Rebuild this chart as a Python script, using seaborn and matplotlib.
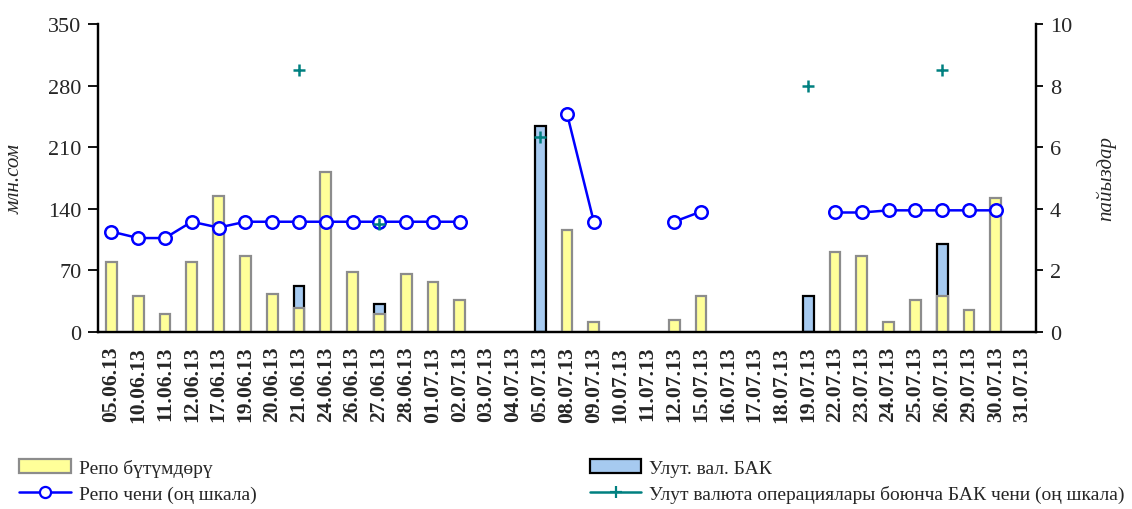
import numpy as np
import pandas as pd
import matplotlib
matplotlib.use("Agg")
import matplotlib.pyplot as plt
from matplotlib import font_manager
import seaborn as sns
from matplotlib.patches import Patch
from matplotlib.lines import Line2D

dates = ["05.06.13", "10.06.13", "11.06.13", "12.06.13", "17.06.13", "19.06.13", "20.06.13",
         "21.06.13", "24.06.13", "26.06.13", "27.06.13", "28.06.13", "01.07.13", "02.07.13",
         "03.07.13", "04.07.13", "05.07.13", "08.07.13", "09.07.13", "10.07.13", "11.07.13",
         "12.07.13", "15.07.13", "16.07.13", "17.07.13", "18.07.13", "19.07.13", "22.07.13",
         "23.07.13", "24.07.13", "25.07.13", "26.07.13", "29.07.13", "30.07.13", "31.07.13"]

repo_volume = [79, 41, 21, 79, 155, 86, 43.5, 27, 182, 68.5, 20.5, 66, 57, 36.7,
               0, 0, 0, 116, 11.7, 0, 0, 14, 41, 0, 0, 0, 0, 91,
               86, 11.7, 36.7, 41, 25, 152.6, 0]

bak_volume = [0, 0, 0, 0, 0, 0, 0, 25.6, 0, 0, 11.5, 0, 0, 0,
              0, 0, 234.5, 0, 0, 0, 0, 0, 0, 0, 0, 0, 41, 0,
              0, 0, 0, 59, 0, 0, 0]

nan = np.nan
repo_rate = [3.26, 3.05, 3.05, 3.58, 3.39, 3.58, 3.58, 3.58, 3.58, 3.58, 3.58, 3.58, 3.58, 3.58,
             nan, nan, nan, 7.09, 3.58, nan, nan, 3.58, 3.91, nan, nan, nan, nan, 3.88,
             3.88, 3.95, 3.95, 3.95, 3.95, 3.95, nan]

bak_rate = [nan, nan, nan, nan, nan, nan, nan, 8.52, nan, nan, 3.52, nan, nan, nan,
            nan, nan, 6.32, nan, nan, nan, nan, nan, nan, nan, nan, nan, 7.99, nan,
            nan, nan, nan, 8.52, nan, nan, nan]

left_ticks = [0, 70, 140, 210, 280, 350]
right_ticks = [0, 2, 4, 6, 8, 10]

labels = {
    "repo": "Репо бүтүмдөрү",
    "bak": "Улут. вал. БАК",
    "repo_rate": "Репо чени (оң шкала)",
    "bak_rate": "Улут валюта операциялары боюнча БАК чени (оң шкала)",
    "ylabel_left": "млн.сом",
    "ylabel_right": "пайыздар",
}

# make sure Liberation Serif is registered
for f in font_manager.findSystemFonts():
    if "LiberationSerif" in f.replace(" ", "").replace("-", ""):
        try:
            font_manager.fontManager.addfont(f)
        except Exception:
            pass

sns.set_theme(style="white")
plt.rcParams["font.family"] = ["Liberation Serif", "Times New Roman", "DejaVu Serif"]

YELLOW = "#FFFF99"
BLUE_FILL = "#A6CAF0"
LINE_BLUE = "#0000FF"
TEAL = "#008080"

df = pd.DataFrame({
    "date": dates,
    "repo": repo_volume,
    "bak": bak_volume,
})
df["total"] = df["repo"] + df["bak"]
df["bak_total"] = np.where(df["bak"] > 0, df["total"], np.nan)
df["repo_plot"] = df["repo"].where(df["repo"] > 0)

fig = plt.figure(figsize=(11.32, 5.10), dpi=100)
ax = fig.add_axes([98 / 1132, 1 - 333 / 510, (1036 - 98) / 1132, (333 - 25) / 510])

sns.barplot(data=df, x="date", y="bak_total", order=dates, ax=ax, color=BLUE_FILL,
            saturation=1, width=0.4, edgecolor="black", linewidth=1.6, zorder=2)
sns.barplot(data=df, x="date", y="repo_plot", order=dates, ax=ax, color=YELLOW,
            saturation=1, width=0.4, edgecolor="#8c8c8c", linewidth=1.6, zorder=3)

ax.set_xlim(-0.5, len(dates) - 0.5)
ax.set_ylim(0, 350)
ax.set_yticks(left_ticks)
ax.set_yticklabels([str(t) for t in left_ticks], fontsize=16)
ax.set_xticks(range(len(dates)))
ax.set_xticklabels(dates, rotation=90, fontsize=15.5, fontweight="bold")
ax.set_xticks(np.arange(-0.5, len(dates), 1), minor=True)
ax.tick_params(axis="x", which="major", length=0, pad=10)
ax.tick_params(axis="x", which="minor", length=6, width=1.3, color="black", direction="out")
ax.tick_params(axis="y", length=7, width=1.3, color="black", direction="out", left=True, pad=5)
ax.set_xlabel("")
ax.set_ylabel(labels["ylabel_left"], fontsize=15, fontstyle="italic", labelpad=17)
ax.spines["top"].set_visible(False)
for s in ["left", "bottom", "right"]:
    ax.spines[s].set_color("black")
    ax.spines[s].set_linewidth(1.6)
ax.grid(False)

ax2 = ax.twinx()
xpos = np.arange(len(dates))
ax2.plot(xpos, repo_rate, color=LINE_BLUE, linewidth=1.8, marker="o", markersize=9,
         markerfacecolor="white", markeredgecolor=LINE_BLUE, markeredgewidth=1.8, zorder=5)
ax2.plot(xpos, bak_rate, color=TEAL, linestyle="none", marker="+", markersize=9,
         markeredgewidth=1.8, zorder=6)
ax2.set_ylim(0, 10)
ax2.set_yticks(right_ticks)
ax2.set_yticklabels([str(t) for t in right_ticks], fontsize=16)
ax2.tick_params(axis="y", length=5, width=1.3, color="black", direction="out", right=True, pad=5)
ax2.set_ylabel(labels["ylabel_right"], fontsize=15, fontstyle="italic", labelpad=17)
ax2.spines["top"].set_visible(False)
for s in ["left", "bottom", "right"]:
    ax2.spines[s].set_color("black")
    ax2.spines[s].set_linewidth(1.6)
ax2.grid(False)
ax2.set_xlim(-0.5, len(dates) - 0.5)

h_repo = Patch(facecolor=YELLOW, edgecolor="#8c8c8c", linewidth=1.6)
h_bak = Patch(facecolor=BLUE_FILL, edgecolor="black", linewidth=1.6)
h_rr = Line2D([], [], color=LINE_BLUE, linewidth=1.8, marker="o", markersize=8,
              markerfacecolor="white", markeredgewidth=1.6)
h_br = Line2D([], [], color=TEAL, linewidth=1.8, marker="+", markersize=9, markeredgewidth=1.6)

leg_kw = dict(loc="upper left", frameon=False, fontsize=14, handlelength=2.65,
              handletextpad=0.4, labelspacing=0.42, borderaxespad=0, borderpad=0)
leg1 = fig.legend([h_repo, h_rr], [labels["repo"], labels["repo_rate"]],
                  bbox_to_anchor=(0.017, 0.098), **leg_kw)
leg2 = fig.legend([h_bak, h_br], [labels["bak"], labels["bak_rate"]],
                  bbox_to_anchor=(0.521, 0.098), **leg_kw)

fig.savefig("out.png", dpi=100)
